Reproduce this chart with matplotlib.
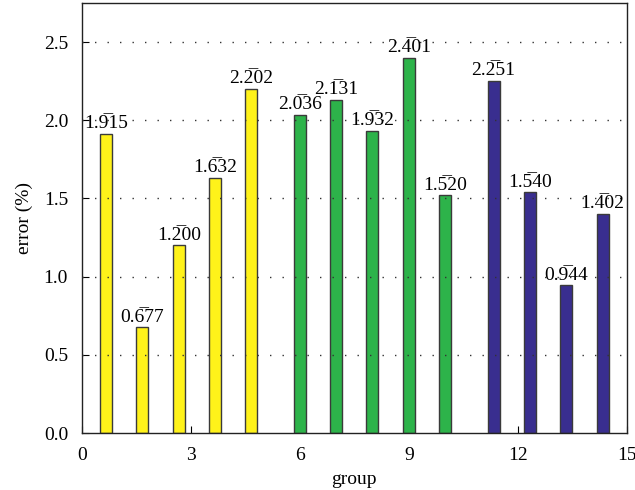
import matplotlib
matplotlib.use('Agg')
import matplotlib.pyplot as plt

# error of each group, three series
groups_a = [1, 2, 3, 4, 5]
errors_a = [1.915, 0.677, 1.200, 1.632, 2.202]
groups_b = [6, 7, 8, 9, 10]
errors_b = [2.036, 2.131, 1.932, 2.401, 1.520]
groups_c = [11, 12, 13, 14]
errors_c = [2.251, 1.540, 0.944, 1.402]

xticks = [0, 3, 6, 9, 12, 15]
yticks = [0.0, 0.5, 1.0, 1.5, 2.0, 2.5]

plt.rcParams['font.family'] = ['Liberation Serif', 'DejaVu Serif']


# value text with a bar over the first decimal digit
def barlabel(v):
    s = '%.3f' % v
    head, tail = s.split('.')
    return head + '.' + tail[0] + '\u0305' + tail[1:]


def drawseries(ax, groups, errors, offset, color):
    xs = [g + offset for g in groups]
    ax.bar(xs, errors, width=0.33, color=color, edgecolor='#3a3a3a',
           linewidth=1.0, zorder=2)
    for x, v in zip(xs, errors):
        ax.text(x, v + 0.01, barlabel(v), ha='center', va='bottom',
                fontsize=14, zorder=4)


fig = plt.figure(figsize=(6.35, 4.9), dpi=100)
ax = fig.add_axes([0.129, 0.116, 0.858, 0.878])

drawseries(ax, groups_a, errors_a, -1 / 3, '#fff21a')
drawseries(ax, groups_b, errors_b, 0.0, '#2db34a')
drawseries(ax, groups_c, errors_c, 1 / 3, '#392e8f')

ax.set_xlim(0, 15)
ax.set_ylim(0, 2.75)
ax.set_xticks(xticks)
ax.set_yticks(yticks)
ax.set_yticklabels(['%.1f' % t for t in yticks])
ax.tick_params(direction='in', length=5, width=0.8, labelsize=14,
               top=False, right=False)
ax.tick_params(axis='x', pad=10)
ax.tick_params(axis='y', pad=10)

for t in yticks[1:]:
    ax.axhline(t, color='#333333', linewidth=1.0,
               linestyle=(0, (1, 8)), zorder=3)

for s in ax.spines.values():
    s.set_linewidth(1.0)
    s.set_color('#222222')

ax.set_xlabel('group', fontsize=14, labelpad=5)
ax.set_ylabel('error (%)', fontsize=14, labelpad=8)

plt.savefig('out.png', dpi=100)
